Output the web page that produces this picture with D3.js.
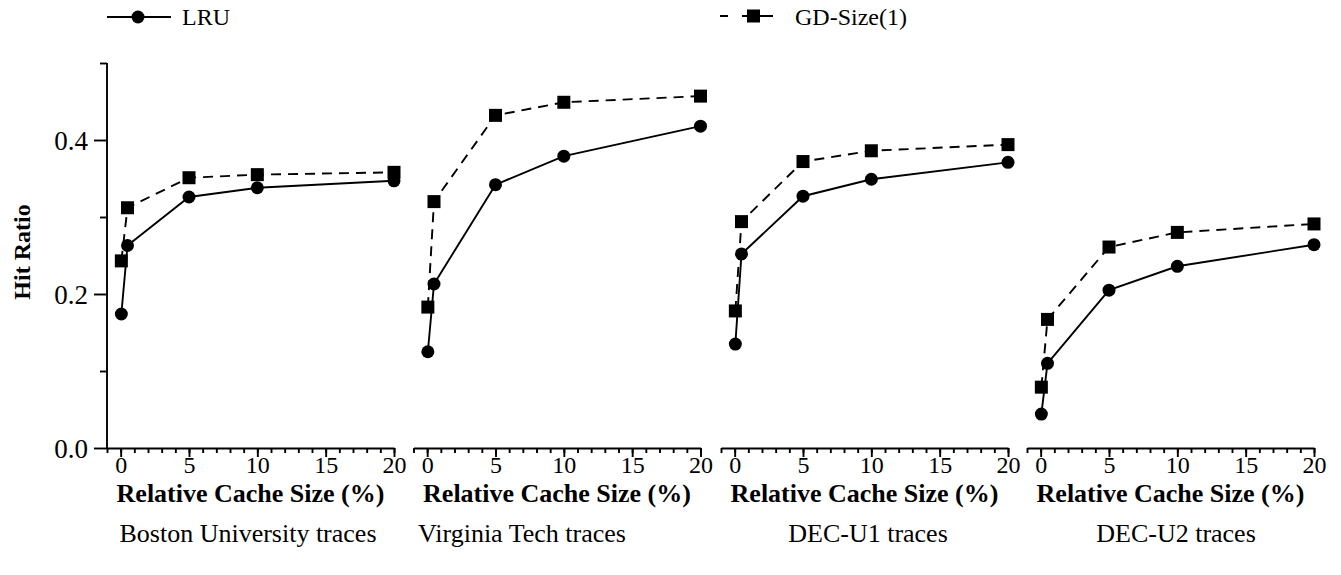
<!DOCTYPE html>
<html>
<head>
<meta charset="utf-8">
<script src="https://cdn.jsdelivr.net/npm/d3@7"></script>
<style>
  body { margin: 0; background: #fff; }
  svg { display: block; }
  svg text { font-family: "Liberation Serif", "Times New Roman", "DejaVu Serif", serif !important; fill: #000; }
</style>
</head>
<body>
<svg id="chart" width="1341" height="575" font-family="Liberation Serif, serif"></svg>
<script>
// ---- data ----
const cacheSizes = [0.05, 0.5, 5, 10, 20];
const panelTitles = ["Boston University traces", "Virginia Tech traces", "DEC-U1 traces", "DEC-U2 traces"];
const seriesNames = ["LRU", "GD-Size(1)"];
const lruValues = [
  [0.174, 0.263, 0.326, 0.338, 0.347],
  [0.125, 0.213, 0.342, 0.379, 0.418],
  [0.135, 0.252, 0.327, 0.349, 0.371],
  [0.044, 0.110, 0.205, 0.236, 0.264]
];
const gdValues = [
  [0.243, 0.312, 0.351, 0.355, 0.358],
  [0.183, 0.320, 0.432, 0.449, 0.457],
  [0.178, 0.294, 0.372, 0.386, 0.394],
  [0.079, 0.167, 0.261, 0.280, 0.291]
];
const xMajorTicks = [0, 5, 10, 15, 20];
const yTicks = [0, 0.1, 0.2, 0.3, 0.4, 0.5];
const yLabelTicks = [0, 0.2, 0.4];

// ---- layout ----
const FONT = '"Liberation Serif", "Times New Roman", serif';
const panelLeft = [107, 413.5, 721, 1027];
const panelWidth = 287;
const titleX = [248, 522, 868, 1176];
const yTop = 63, yBottom = 448;
const LW = 1.9;

const svg = d3.select("#chart");
const y = d3.scaleLinear().domain([0, 0.5]).range([yBottom, yTop]);

// y axis
const yAxisG = svg.append("g").attr("transform", `translate(${panelLeft[0]},0)`);
yAxisG.call(d3.axisLeft(y).tickValues(yTicks).tickSizeOuter(0)
  .tickSize(7).tickFormat(""));
yAxisG.attr("font-family", null);
yAxisG.selectAll(".tick").filter(d => yLabelTicks.includes(d)).select("line").attr("x2", -13);
yAxisG.selectAll(".tick").filter(d => yLabelTicks.includes(d)).append("text")
  .attr("x", -19).attr("dy", "0.35em").attr("text-anchor", "end")
  .style("font-family", FONT).style("font-size", "27px").text(d => d3.format(".1f")(d));
yAxisG.selectAll("path, line").attr("stroke", "#000").attr("stroke-width", LW);
yAxisG.select(".domain").attr("d", `M0,${yTop}V${yBottom}`);

svg.append("text")
  .attr("transform", `translate(30,252) rotate(-90)`)
  .attr("text-anchor", "middle")
  .style("font-family", FONT)
  .style("font-size", "24px").style("font-weight", "bold")
  .text("Hit Ratio");

const lineGen = (x) => d3.line().x(d => x(d[0])).y(d => y(d[1]));

panelTitles.forEach((title, i) => {
  const x = d3.scaleLinear().domain([-1, 20]).range([panelLeft[i], panelLeft[i] + panelWidth]);
  const g = svg.append("g");

  const minor = g.append("g").attr("transform", `translate(0,${yBottom})`)
    .call(d3.axisBottom(x).tickValues(d3.range(-1, 21)).tickSize(5).tickSizeOuter(0).tickFormat(""));
  const major = g.append("g").attr("transform", `translate(0,${yBottom})`)
    .call(d3.axisBottom(x).tickValues(xMajorTicks).tickSize(9).tickSizeOuter(0).tickFormat(d3.format("d")));
  minor.attr("font-family", null);
  major.attr("font-family", null);
  major.select(".domain").remove();
  [minor, major].forEach(a => a.selectAll("path, line").attr("stroke", "#000").attr("stroke-width", LW));
  major.selectAll("text").attr("y", 25).attr("dy", null)
    .style("font-family", FONT).style("font-size", "24px").attr("fill", "#000");

  g.append("text")
    .attr("x", panelLeft[i] + panelWidth / 2).attr("y", 502)
    .attr("text-anchor", "middle")
    .style("font-family", FONT)
    .style("font-size", "26px").style("font-weight", "bold")
    .text("Relative Cache Size (%)");

  g.append("text")
    .attr("x", titleX[i]).attr("y", 542)
    .attr("text-anchor", "middle")
    .style("font-family", FONT)
    .style("font-size", "26px")
    .text(title);

  const lru = cacheSizes.map((c, k) => [c, lruValues[i][k]]);
  const gd = cacheSizes.map((c, k) => [c, gdValues[i][k]]);

  g.append("path").datum(gd).attr("d", lineGen(x)).attr("fill", "none")
    .attr("stroke", "#000").attr("stroke-width", LW).attr("stroke-dasharray", "10,7");
  g.append("path").datum(lru).attr("d", lineGen(x)).attr("fill", "none")
    .attr("stroke", "#000").attr("stroke-width", LW);

  g.selectAll(".sq").data(gd).enter().append("rect")
    .attr("x", d => x(d[0]) - 6.5).attr("y", d => y(d[1]) - 6.5)
    .attr("width", 13).attr("height", 13).attr("fill", "#000");
  g.selectAll(".ci").data(lru).enter().append("circle")
    .attr("cx", d => x(d[0])).attr("cy", d => y(d[1])).attr("r", 6.5).attr("fill", "#000");
});

// legend
const leg = svg.append("g");
leg.append("line").attr("x1", 107).attr("x2", 171).attr("y1", 17).attr("y2", 17)
  .attr("stroke", "#000").attr("stroke-width", LW);
leg.append("circle").attr("cx", 138).attr("cy", 17).attr("r", 6.5).attr("fill", "#000");
leg.append("text").attr("x", 182).attr("y", 25).style("font-family", FONT)
  .style("font-size", "24px").text(seriesNames[0]);

leg.append("line").attr("x1", 720).attr("x2", 773).attr("y1", 16).attr("y2", 16)
  .attr("stroke", "#000").attr("stroke-width", LW).attr("stroke-dasharray", "8,14,40");
leg.append("rect").attr("x", 747).attr("y", 9.5).attr("width", 13).attr("height", 13).attr("fill", "#000");
leg.append("text").attr("x", 795).attr("y", 25).style("font-family", FONT)
  .style("font-size", "24px").text(seriesNames[1]);
</script>
</body>
</html>
